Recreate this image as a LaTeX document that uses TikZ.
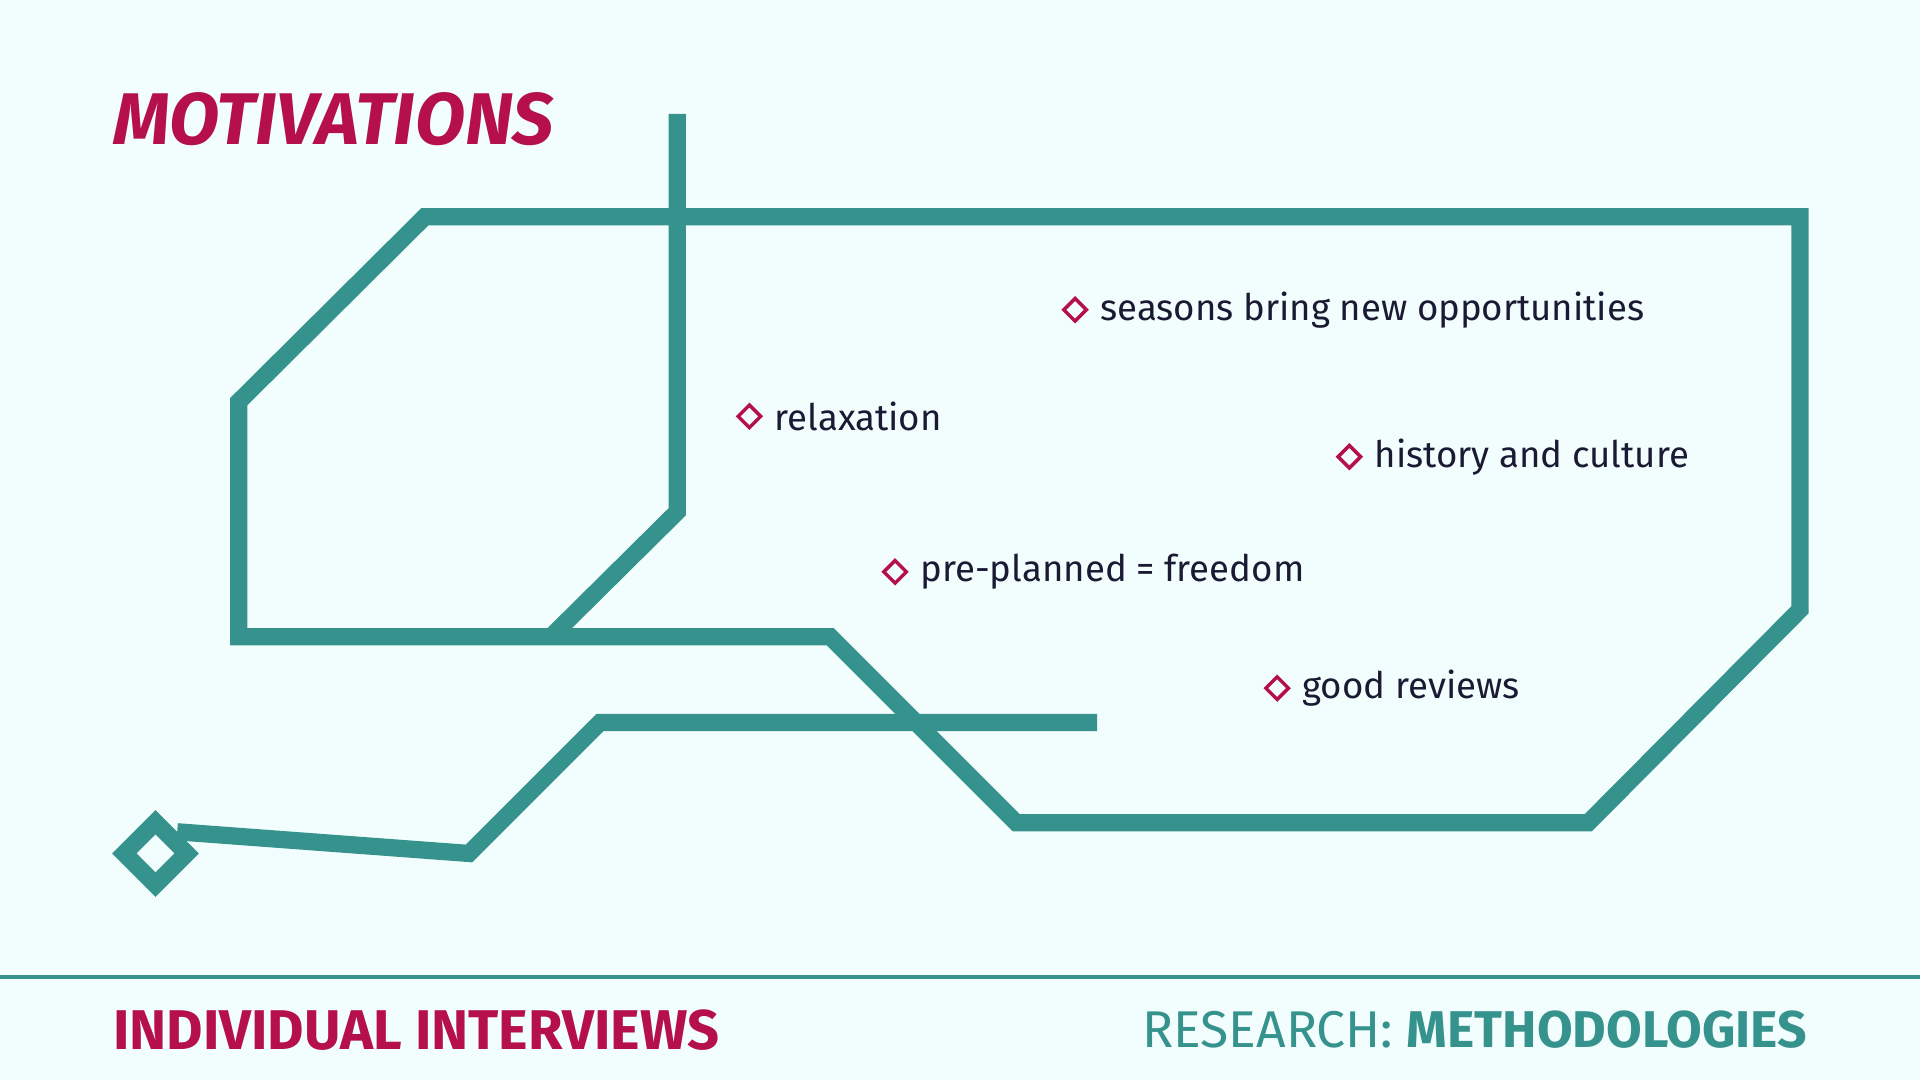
\documentclass[tikz,border=0pt]{standalone}
\usepackage{fontspec}
\setmainfont{Fira Sans}
\usetikzlibrary{positioning}
\definecolor{bgc}{HTML}{F2FDFD}
\definecolor{teal}{HTML}{35928C}
\definecolor{crim}{HTML}{B5104A}
\definecolor{ink}{HTML}{1A1A33}

\tikzset{
    track/.style={draw=teal, line width=4pt, line join=miter},
    bullet/.style={draw=crim, line width=0.8pt, rotate=45, minimum size=0.13cm, inner sep=0pt},
    item/.style={text=ink, font=\fontsize{8.5}{10}\selectfont, anchor=west, inner sep=0pt},
}

\begin{document}
\begin{tikzpicture}[x=0.01cm, y=-0.01cm]
    \fill[bgc] (0,0) rectangle (1568,882);
    \useasboundingbox (0,0) rectangle (1568,882);

    % tracks
    \draw[track] (195,520) -- (195,328) -- (347,177) -- (1470,177) -- (1470,498)
        -- (1297,672) -- (830,672) -- (678,520) -- cycle;
    \draw[track] (553,93) -- (553,418) -- (450,520);
    \node[draw=teal, line width=4pt, rotate=45, minimum size=0.36cm, inner sep=0pt] (start) at (127,697) {};
    \coordinate (end) at (896,590);
    \draw[track] (start.east) -- (383,697) -- (490,590) -- (end);

    % title
    \node[anchor=west, text=crim, font=\fontsize{17}{20}\selectfont\bfseries\itshape] (title) at (80,97) {MOTIVATIONS};

    % motivations
    \foreach \x/\y/\txt [count=\n] in {878/253/seasons bring new opportunities, 612/340/relaxation,
        1102/373/history and culture, 731/467/pre-planned = freedom, 1043/562/good reviews}{
        \node[bullet] (m\n) at (\x,\y) {};
        \node[item, right=0.2cm of m\n.center] (t\n) {\txt};
    }

    % footer
    \draw[teal, line width=1pt] (0,798) -- (1568,798);
    \node[anchor=west, text=crim, font=\fontsize{13}{15}\selectfont\bfseries] (left) at (80,841) {INDIVIDUAL INTERVIEWS};
    \node[anchor=east, text=teal, font=\fontsize{12}{14}\selectfont] (right) at (1488,841) {RESEARCH: \textbf{METHODOLOGIES}};
\end{tikzpicture}
\end{document}
